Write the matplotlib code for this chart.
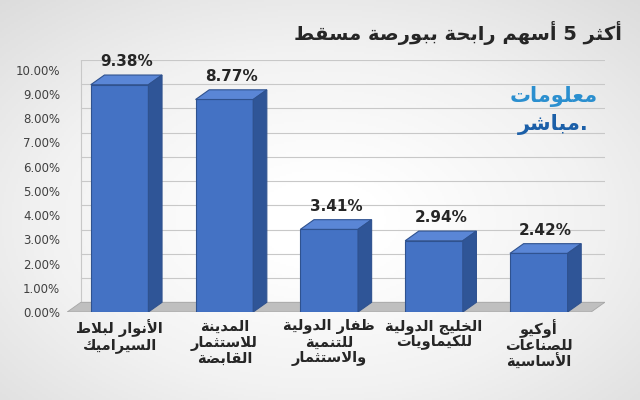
import numpy as np
import matplotlib.pyplot as plt
from matplotlib.patches import Polygon
from matplotlib.colors import LinearSegmentedColormap

plt.rcParams['font.family'] = ['DejaVu Sans']

companies = [
    ["الأنوار لبلاط", "السيراميك"],
    ["المدينة", "للاستثمار", "القابضة"],
    ["ظفار الدولية", "للتنمية", "والاستثمار"],
    ["الخليج الدولية", "للكيماويات"],
    ["أوكيو", "للصناعات", "الأساسية"],
]
gains = [9.38, 8.77, 3.41, 2.94, 2.42]
title = "أكثر 5 أسهم رابحة ببورصة مسقط"

# minimal Arabic shaping: (isolated, final, initial, medial)
FORMS = {
    'ء': (0xFE80,), 'آ': (0xFE81, 0xFE82), 'أ': (0xFE83, 0xFE84), 'ؤ': (0xFE85, 0xFE86),
    'إ': (0xFE87, 0xFE88), 'ئ': (0xFE89, 0xFE8A, 0xFE8B, 0xFE8C), 'ا': (0xFE8D, 0xFE8E),
    'ب': (0xFE8F, 0xFE90, 0xFE91, 0xFE92), 'ة': (0xFE93, 0xFE94),
    'ت': (0xFE95, 0xFE96, 0xFE97, 0xFE98), 'ث': (0xFE99, 0xFE9A, 0xFE9B, 0xFE9C),
    'ج': (0xFE9D, 0xFE9E, 0xFE9F, 0xFEA0), 'ح': (0xFEA1, 0xFEA2, 0xFEA3, 0xFEA4),
    'خ': (0xFEA5, 0xFEA6, 0xFEA7, 0xFEA8), 'د': (0xFEA9, 0xFEAA), 'ذ': (0xFEAB, 0xFEAC),
    'ر': (0xFEAD, 0xFEAE), 'ز': (0xFEAF, 0xFEB0), 'س': (0xFEB1, 0xFEB2, 0xFEB3, 0xFEB4),
    'ش': (0xFEB5, 0xFEB6, 0xFEB7, 0xFEB8), 'ص': (0xFEB9, 0xFEBA, 0xFEBB, 0xFEBC),
    'ض': (0xFEBD, 0xFEBE, 0xFEBF, 0xFEC0), 'ط': (0xFEC1, 0xFEC2, 0xFEC3, 0xFEC4),
    'ظ': (0xFEC5, 0xFEC6, 0xFEC7, 0xFEC8), 'ع': (0xFEC9, 0xFECA, 0xFECB, 0xFECC),
    'غ': (0xFECD, 0xFECE, 0xFECF, 0xFED0), 'ف': (0xFED1, 0xFED2, 0xFED3, 0xFED4),
    'ق': (0xFED5, 0xFED6, 0xFED7, 0xFED8), 'ك': (0xFED9, 0xFEDA, 0xFEDB, 0xFEDC),
    'ل': (0xFEDD, 0xFEDE, 0xFEDF, 0xFEE0), 'م': (0xFEE1, 0xFEE2, 0xFEE3, 0xFEE4),
    'ن': (0xFEE5, 0xFEE6, 0xFEE7, 0xFEE8), 'ه': (0xFEE9, 0xFEEA, 0xFEEB, 0xFEEC),
    'و': (0xFEED, 0xFEEE), 'ى': (0xFEEF, 0xFEF0), 'ي': (0xFEF1, 0xFEF2, 0xFEF3, 0xFEF4),
    'لا': (0xFEFB, 0xFEFC), 'لأ': (0xFEF7, 0xFEF8), 'لآ': (0xFEF5, 0xFEF6), 'لإ': (0xFEF9, 0xFEFA),
}


def shape(text):
    toks = []
    i = 0
    while i < len(text):
        if text[i] == 'ل' and i + 1 < len(text) and text[i:i + 2] in FORMS:
            toks.append(text[i:i + 2])
            i += 2
        else:
            toks.append(text[i])
            i += 1
    out = []
    for k, t in enumerate(toks):
        f = FORMS.get(t)
        if f is None:
            out.append(t)
            continue
        prev = toks[k - 1] if k > 0 else None
        nxt = toks[k + 1] if k + 1 < len(toks) else None
        jp = prev is not None and prev in FORMS and len(FORMS[prev]) == 4
        jn = nxt is not None and nxt in FORMS and len(f) == 4
        if jp and jn:
            c = f[3]
        elif jn:
            c = f[2]
        elif jp and len(f) > 1:
            c = f[1]
        else:
            c = f[0]
        out.append(chr(c))
    return ''.join(out)[::-1]


fig = plt.figure(figsize=(6.4, 4.0), dpi=100)
bg = fig.add_axes([0, 0, 1, 1])
yy, xx = np.mgrid[0:1:200j, 0:1:320j]
grad = np.sqrt((xx - 0.5) ** 2 + (yy - 0.55) ** 2)
cmap = LinearSegmentedColormap.from_list('bg', ['#ffffff', '#f2f2f2', '#dcdcdc'])
bg.imshow(grad, cmap=cmap, vmin=0.1, vmax=0.75, extent=[0, 1, 0, 1], aspect='auto')
bg.axis('off')

ax = fig.add_axes([0.105, 0.22, 0.84, 0.63])
ax.patch.set_alpha(0)
x = np.arange(len(gains))
dx, dy = 0.13, 0.4
ymax = 10

for v in np.arange(0, 10.01, 1):
    ax.plot([-0.5 + dx, 4.5 + dx], [v + dy, v + dy], color='#c8c8c8', lw=0.8, zorder=0)
ax.plot([-0.5 + dx, -0.5 + dx], [dy, ymax + dy], color='#c8c8c8', lw=0.8, zorder=0)
# floor
ax.add_patch(Polygon([(-0.5, 0), (4.5, 0), (4.5 + dx, dy), (-0.5 + dx, dy)],
                     facecolor='#bfbfbf', edgecolor='#a6a6a6', lw=0.6, zorder=1))
ax.add_patch(Polygon([(-0.5, 0), (4.5, 0), (4.5, -0.1), (-0.5, -0.1)],
                     facecolor='#8c8c8c', edgecolor='none', zorder=1))

w = 0.55
bars = ax.bar(x, gains, width=w, color='#4472c4', edgecolor='#2f528f', lw=0.8, zorder=3)
for xi, g in zip(x, gains):
    l, r = xi - w / 2, xi + w / 2
    ax.add_patch(Polygon([(l, g), (r, g), (r + dx, g + dy), (l + dx, g + dy)],
                         facecolor='#5a86d6', edgecolor='#2f528f', lw=0.8, zorder=3))
    ax.add_patch(Polygon([(r, 0), (r + dx, dy), (r + dx, g + dy), (r, g)],
                         facecolor='#2f5597', edgecolor='#2f528f', lw=0.8, zorder=3))
    ax.text(xi + dx / 2, g + dy + 0.25, f"{g:.2f}%", ha='center', va='bottom',
            fontsize=11, fontweight='bold', color='#262626')

ax.set_xlim(-0.5, 4.5 + dx)
ax.set_ylim(0, ymax + dy)
ax.set_yticks(np.arange(0, 10.01, 1))
ax.set_yticklabels([f"{v:.2f}%" for v in np.arange(0, 10.01, 1)], fontsize=8.5, color='#404040')
ax.set_xticks(x)
ax.set_xticklabels(['\n'.join(shape(s) for s in c) for c in companies],
                   fontsize=10.5, fontweight='bold', color='#262626', linespacing=1.05)
ax.tick_params(length=0, pad=5)
for s in ax.spines.values():
    s.set_visible(False)

fig.text(0.715, 0.9, shape(title), ha='center', fontsize=14, fontweight='bold', color='#262626')
fig.text(0.865, 0.745, shape("معلومات"), ha='center', fontsize=15, fontweight='bold', color='#2b8fcf')
fig.text(0.865, 0.675, shape("مباشر") + '.', ha='center', fontsize=15, fontweight='bold', color='#1b5fa8')

fig.savefig('out.png', dpi=100)
